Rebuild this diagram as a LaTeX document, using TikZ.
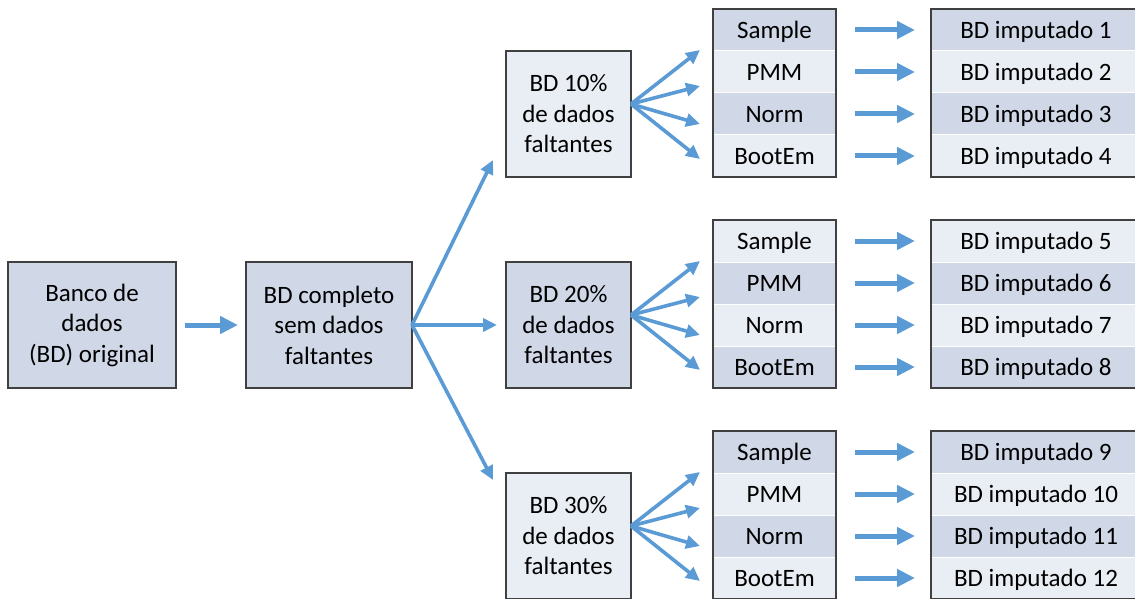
\documentclass[tikz,border=0pt]{standalone}
\usepackage{fontspec}
\setmainfont{Carlito}
\usetikzlibrary{arrows.meta,positioning}
\definecolor{shdark}{HTML}{D0D8E8}
\definecolor{shlight}{HTML}{E9EDF4}
\definecolor{arrblue}{HTML}{5B9BD5}
\definecolor{frame}{HTML}{404040}

\begin{document}
\begin{tikzpicture}[x=1pt, y=-1pt, font=\fontsize{25}{30.5}\selectfont,
  box/.style={draw=frame, line width=1.5pt, align=center, inner sep=0pt, outer sep=0pt, minimum height=126pt},
  cell/.style={draw=white, line width=1pt, inner sep=0pt, outer sep=0pt, minimum height=42pt, text height=20pt, text depth=3pt},
  meth/.style={cell, minimum width=123pt},
  res/.style={cell, minimum width=210pt},
  big/.style={-{Triangle[length=18pt,width=17pt]}, line width=5pt, arrblue},
  fan/.style={-{Triangle[length=14pt,width=13pt]}, line width=3.6pt, arrblue}]
\useasboundingbox (0,0) rectangle (1135,599);

\node[box, fill=shdark, minimum width=168pt] (orig) at (92,325) {Banco de\\dados\\(BD) original};
\node[box, fill=shdark, minimum width=166pt, right=70pt of orig] (comp) {BD completo\\sem dados\\faltantes};
\node[box, fill=shdark, minimum width=125pt, right=94pt of comp] (p20) {BD 20\%\\de dados\\faltantes};
\node[box, fill=shlight, minimum width=125pt, above=85pt of p20] (p10) {BD 10\%\\de dados\\faltantes};
\node[box, fill=shlight, minimum width=125pt, below=85pt of p20] (p30) {BD 30\%\\de dados\\faltantes};

\draw[big, shorten <=9pt, shorten >=8pt] (orig) -- (comp);
\draw[fan] (comp.east) -- ([xshift=-13pt, yshift=17pt]p10.south west);
\draw[fan] (comp.east) -- ([xshift=-9pt]p20.west);
\draw[fan] (comp.east) -- ([xshift=-13pt, yshift=-7pt]p30.north west);

% one block of methods and imputed sets per missing-data level
\foreach \grp/\fa/\fb [count=\n from 0] in {p10/shdark/shlight, p20/shlight/shdark, p30/shdark/shlight} {
  \node[meth, fill=\fb, above right=0pt and 82pt of \grp.south east] (\grp-m4) {BootEm};
  \node[meth, fill=\fa, above=0pt of \grp-m4] (\grp-m3) {Norm};
  \node[meth, fill=\fb, above=0pt of \grp-m3] (\grp-m2) {PMM};
  \node[meth, fill=\fa, above=0pt of \grp-m2] (\grp-m1) {Sample};
  \draw[frame, line width=1.5pt] (\grp-m1.north west) rectangle (\grp-m4.south east);
  \foreach \r/\dy in {1/-20, 2/-14, 3/-10, 4/-3}
    \draw[fan] ([yshift=10pt]\grp.east) -- ([xshift=-13pt, yshift=\dy pt]\grp-m\r.west);
  \foreach \r/\f in {1/\fa, 2/\fb, 3/\fa, 4/\fb} {
    \pgfmathtruncatemacro\k{4*\n+\r}
    \node[res, fill=\f, right=95pt of \grp-m\r] (\grp-r\r) {BD imputado \k};
    \draw[big, shorten <=19pt, shorten >=16pt] (\grp-m\r) -- (\grp-r\r);
  }
  \draw[frame, line width=1.5pt] (\grp-r1.north west) rectangle (\grp-r4.south east);
}
\end{tikzpicture}
\end{document}
